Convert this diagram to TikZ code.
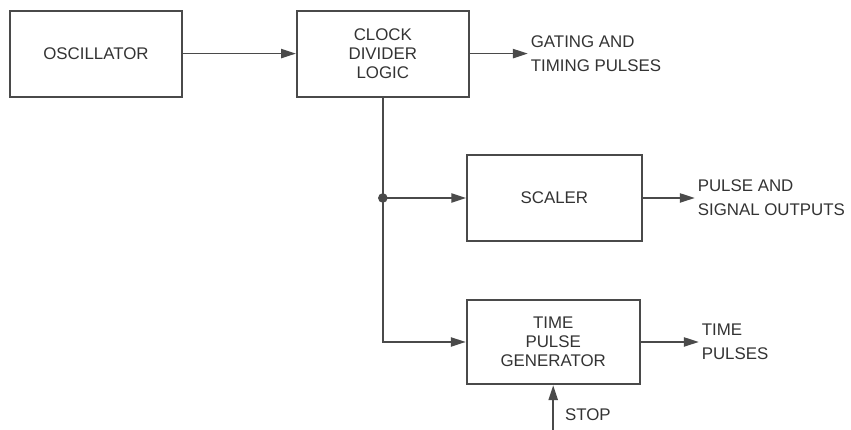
\documentclass[tikz,border=0pt]{standalone}
\usepackage{fontspec}
\setmainfont{Liberation Sans}
\usepackage{tikz}
\usetikzlibrary{arrows.meta,positioning}
\definecolor{Ink}{HTML}{4A4A4A}
\definecolor{TextInk}{HTML}{333333}
\tikzset{
    % plain block, sharp corners
    blockbox/.style={
        rectangle,
        draw=Ink,
        line width=1.3pt,
        minimum width=4.3cm,
        minimum height=2.15cm,
        align=center,
        text=TextInk,
        font=\fontsize{12}{13.5}\selectfont
    },
    outlabel/.style={
        anchor=west,
        inner sep=2pt,
        align=left,
        text=TextInk,
        font=\fontsize{12}{17}\selectfont
    },
    arrow/.style={
        -{Triangle[length=0.37cm,width=0.23cm]},
        line width=1.2pt,
        color=Ink
    },
    wire/.style={
        line width=1.2pt,
        color=Ink
    }
}
\begin{document}
\begin{tikzpicture}
    \useasboundingbox (0,0) rectangle (21.275,10.75);
    \node[blockbox] (osc) at (2.4,9.41) {OSCILLATOR};
    \node[blockbox, right=2.825cm of osc] (clock) {CLOCK\\DIVIDER\\LOGIC};
    \node[outlabel, right=1.45cm of clock] (gating) {GATING AND\\TIMING PULSES};
    \node[blockbox, minimum width=4.37cm] (scaler) at (13.86,5.8) {SCALER};
    \node[outlabel, right=1.3cm of scaler] (pulse) {PULSE AND\\SIGNAL OUTPUTS};
    \node[blockbox, minimum width=4.33cm, minimum height=2.12cm] (timegen) at (13.83,2.2) {TIME\\PULSE\\GENERATOR};
    \node[outlabel, right=1.45cm of timegen] (timeout) {TIME\\PULSES};
    \coordinate (split) at (clock.south |- scaler.west);
    \coordinate (stopin) at (timegen.south |- 0,0);
    \node[outlabel, font=\fontsize{12}{14}\selectfont] (stop) at (14.05,0.38) {STOP};
    % connectors
    \draw[arrow] (osc) -- (clock);
    \draw[arrow] (clock) -- (gating);
    \draw[wire] (clock.south) -- (split);
    \draw[arrow] (split) -- (scaler);
    \draw[arrow] (split) |- (timegen);
    \draw[arrow] (scaler) -- (pulse);
    \draw[arrow] (timegen) -- (timeout);
    \draw[arrow] (stopin) -- (timegen.south);
    \fill[Ink] (split) circle (0.12cm);
\end{tikzpicture}
\end{document}
